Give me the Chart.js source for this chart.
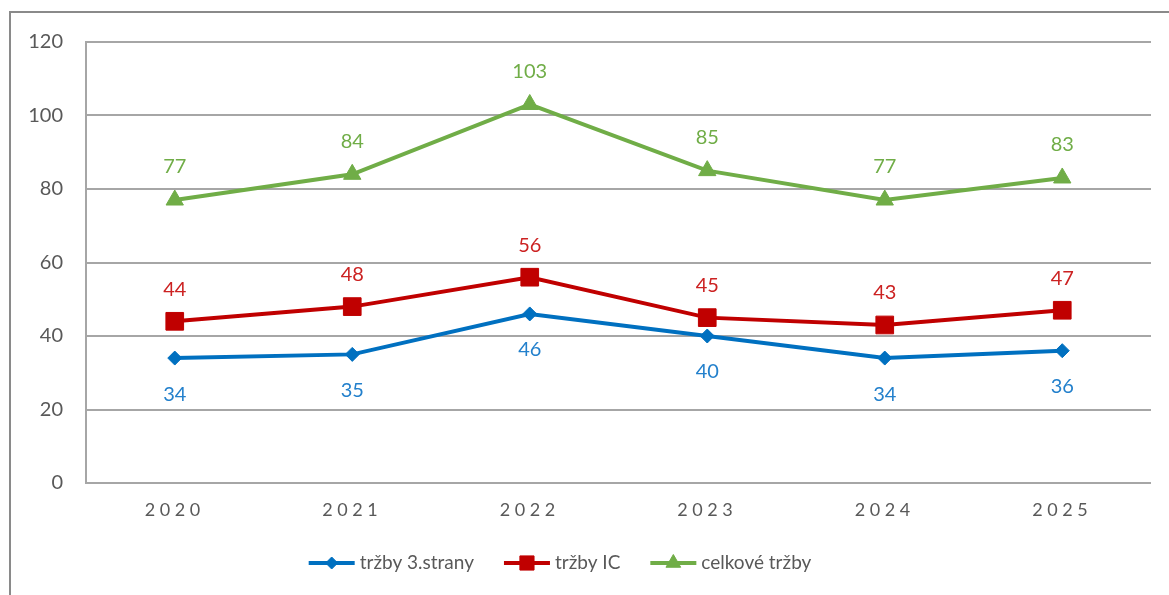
<!DOCTYPE html>
<html><head><meta charset="utf-8">
<script src="https://cdn.jsdelivr.net/npm/chart.js@4"></script>
<style>html,body{margin:0;padding:0;background:#fff;overflow:hidden}</style>
</head><body>
<canvas id="c" width="1169" height="595" style="display:block;width:1169px;height:595px"></canvas>
<script>
const categories = ['2020','2021','2022','2023','2024','2025'];
const thirdParty = [34, 35, 46, 40, 34, 36];
const icSales = [44, 48, 56, 45, 43, 47];
const totalSales = [77, 84, 103, 85, 77, 83];
const yTickMin = 0, yTickMax = 120, yTickStep = 20;
const seriesNames = ['tržby 3.strany', 'tržby IC', 'celkové tržby'];

const FONT = 'Lato, "Open Sans", sans-serif';

const datasets = [
  { label: seriesNames[0], data: thirdParty, borderColor: '#0070C0', backgroundColor: '#0070C0',
    pointStyle: 'rectRot', pointRadius: 7, labelColor: '#2380cc', labelOffset: 36, legendRadius: 6 },
  { label: seriesNames[1], data: icSales, borderColor: '#C00000', backgroundColor: '#C00000',
    pointStyle: 'rect', pointRadius: 12.5, labelColor: '#cc2222', labelOffset: -32, legendRadius: 10 },
  { label: seriesNames[2], data: totalSales, borderColor: '#70AD47', backgroundColor: '#70AD47',
    pointStyle: 'triangle', pointRadius: 10, labelColor: '#70AD47', labelOffset: -33, legendRadius: 8.5 }
].map(d => Object.assign({ borderWidth: 4, pointBorderWidth: 1, pointBorderColor: d.borderColor,
  pointBackgroundColor: d.backgroundColor, tension: 0, fill: false }, d));

const framePlugin = {
  id: 'frame',
  beforeDraw(chart) {
    const ctx = chart.ctx;
    ctx.save();
    ctx.fillStyle = '#fff';
    ctx.fillRect(0, 0, chart.width, chart.height);
    ctx.strokeStyle = '#8a8a8a';
    ctx.lineWidth = 2;
    ctx.strokeRect(10, 12, 1300, 800);
    ctx.restore();
    const xs = chart.scales.x;
    if (xs && !xs._lsPatched) {
      const orig = xs.drawLabels;
      xs.drawLabels = function (area) {
        const c = this.ctx; c.save(); c.letterSpacing = '4.5px'; orig.call(this, area); c.restore();
      };
      xs._lsPatched = true;
    }
  }
};

const labelsPlugin = {
  id: 'valueLabels',
  afterDatasetsDraw(chart) {
    const ctx = chart.ctx;
    ctx.save();
    ctx.font = '20px ' + FONT;
    ctx.textAlign = 'center';
    ctx.textBaseline = 'middle';
    chart.data.datasets.forEach((ds, i) => {
      const meta = chart.getDatasetMeta(i);
      ctx.fillStyle = ds.labelColor;
      meta.data.forEach((pt, j) => {
        ctx.fillText(String(ds.data[j]), pt.x, pt.y + ds.labelOffset);
      });
    });
    ctx.restore();
  }
};

const legendPlugin = {
  id: 'customLegend',
  afterDraw(chart) {
    const ctx = chart.ctx;
    ctx.save();
    ctx.font = '19px ' + FONT;
    ctx.textBaseline = 'middle';
    const lineW = 46, gapText = 5, gapItem = 30, y = 563;
    const items = chart.data.datasets.map(ds => ({ ds, w: ctx.measureText(ds.label).width }));
    const total = items.reduce((s, it) => s + lineW + gapText + it.w, 0) + gapItem * (items.length - 1);
    let x = 560 - total / 2;
    items.forEach(({ ds, w }) => {
      ctx.strokeStyle = ds.borderColor;
      ctx.lineWidth = 4;
      ctx.beginPath(); ctx.moveTo(x, y); ctx.lineTo(x + lineW, y); ctx.stroke();
      ctx.fillStyle = ds.backgroundColor;
      ctx.strokeStyle = ds.borderColor;
      ctx.lineWidth = 1;
      Chart.helpers.drawPoint(ctx, { pointStyle: ds.pointStyle, radius: ds.legendRadius, rotation: 0, borderWidth: 1 }, x + lineW / 2, y);
      ctx.fillStyle = '#595959';
      ctx.fillText(ds.label, x + lineW + gapText, y);
      x += lineW + gapText + w + gapItem;
    });
    ctx.restore();
  }
};

new Chart(document.getElementById('c'), {
  type: 'line',
  data: { labels: categories, datasets },
  options: {
    responsive: false,
    devicePixelRatio: 1,
    animation: false,
    layout: { padding: { left: 0, top: 42, right: 18, bottom: 0 } },
    plugins: { legend: { display: false }, tooltip: { enabled: false } },
    scales: {
      x: {
        offset: true,
        grid: { display: false, drawTicks: false },
        border: { display: false },
        ticks: { color: '#595959', font: { family: FONT, size: 18 }, padding: 16 },
        afterFit(s) { s.height = 112; }
      },
      y: {
        min: yTickMin, max: yTickMax,
        ticks: { stepSize: yTickStep, color: '#595959', font: { family: FONT, size: 20 }, padding: 23 },
        grid: { color: '#a6a6a6', lineWidth: 2, drawTicks: false },
        border: { display: true, color: '#a6a6a6', width: 2 },
        afterFit(s) { s.width = 86; }
      }
    }
  },
  plugins: [framePlugin, labelsPlugin, legendPlugin]
});
</script>
</body></html>
